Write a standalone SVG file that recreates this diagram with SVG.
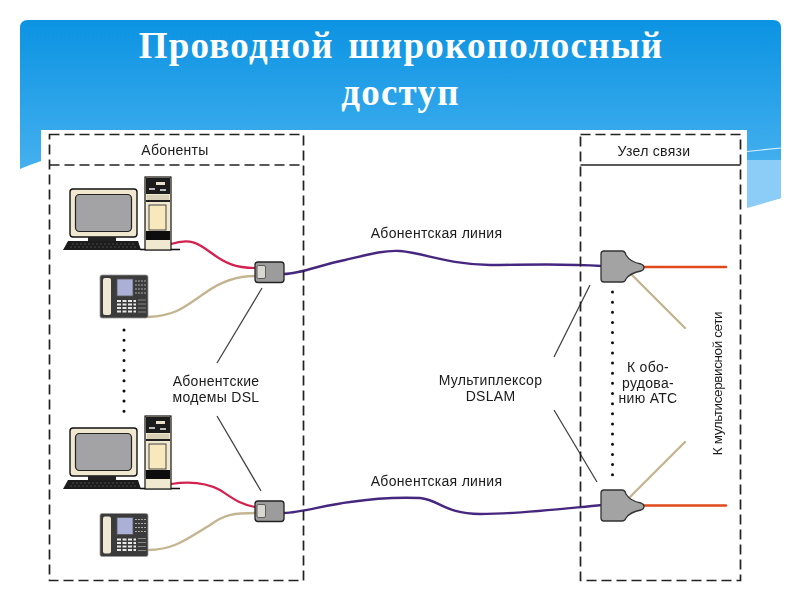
<svg xmlns="http://www.w3.org/2000/svg" xmlns:xlink="http://www.w3.org/1999/xlink" width="800" height="600" viewBox="0 0 800 600">
<style>
.t{font-family:"Liberation Sans",Arial,sans-serif;font-size:14px;letter-spacing:.3px;fill:#1a1a1a;text-anchor:middle}
.r{letter-spacing:-.4px;font-size:13.500px}
.h{font-family:"Liberation Serif","Times New Roman",serif;font-size:37px;font-weight:bold;fill:#fff;text-anchor:middle;letter-spacing:1.250px;word-spacing:4px}
.c{fill:none;stroke-linecap:round}
.red{stroke:#d3204f;stroke-width:2.200}
.tan{stroke:#c4b591;stroke-width:2.400}
.pur{stroke:#46287f;stroke-width:2.400}
.org{stroke:#e0491c;stroke-width:2.400}
.lead{stroke:#444;stroke-width:1.300;fill:none}
.dash{stroke:#222;stroke-width:1.700;stroke-dasharray:10 5;fill:none}
.dots{stroke:#111;stroke-width:3;stroke-linecap:round;stroke-dasharray:0 10.150;fill:none}
.dev{fill:#a3a3a3;stroke:#333;stroke-width:1.300}
</style>
<defs>
<linearGradient id="sky" x1="0" y1="20" x2="0" y2="210" gradientUnits="userSpaceOnUse">
<stop offset="0" stop-color="#0b93e2"/><stop offset="1" stop-color="#55b8f2"/>
</linearGradient>
<filter id="soft" x="-2%" y="-2%" width="104%" height="104%"><feGaussianBlur stdDeviation="0.5"/></filter>
<g id="pc">
<rect x="70" y="189" width="67" height="48" rx="3" fill="#f1e9cf" stroke="#111" stroke-width="1.400"/>
<rect x="75.500" y="194.500" width="56" height="37" rx="4" fill="#a3a3a5" stroke="#222" stroke-width="1.200"/>
<rect x="88" y="237" width="28" height="4" fill="#222"/>
<path d="M68,241H138L141,250H63Z" fill="#1d1d1d"/>
<path d="M72,244H134M70,247H137" stroke="#666" stroke-width=".6" stroke-dasharray="2 2"/>
<path d="M140,249.500H180" stroke="#111" stroke-width="1.500"/>
<rect x="145" y="177" width="26" height="73" fill="#f1e9cf" stroke="#111" stroke-width="1.200"/>
<rect x="146" y="178" width="24" height="16" fill="#1e1e1e"/>
<rect x="156" y="182" width="9" height="3" fill="#e8e0c8"/>
<rect x="149" y="188" width="6" height="2" fill="#bbb"/>
<rect x="160" y="189" width="6" height="2" fill="#bbb"/>
<rect x="147" y="195" width="22" height="5" fill="#d8d0b5"/>
<rect x="146" y="200" width="24" height="2" fill="#222"/>
<rect x="149" y="205" width="17" height="25" fill="#f8e9bd" stroke="#444" stroke-width="1"/>
<rect x="146" y="231" width="24" height="9" fill="#111"/>
</g>
<g id="phone">
<rect x="100" y="275" width="48" height="43" rx="2" fill="#3a3a3a" stroke="#999" stroke-width=".8"/>
<rect x="103" y="278" width="8" height="37" rx="2" fill="#efe8d2"/>
<rect x="117" y="279" width="16" height="17" fill="#aab0d6" stroke="#555" stroke-width=".8"/>
<path d="M135,281H146M135,285H146M135,289H146M135,293H146" stroke="#aaa" stroke-width="1" stroke-dasharray="2 1"/>
<path d="M117,301H136M117,304.500H136M117,308H136M117,311.500H136" stroke="#e8e8e8" stroke-width="1.800" stroke-dasharray="4 1.500"/>
<path d="M138,300H146M138,304H146M138,308H146M138,312H146" stroke="#888" stroke-width="1"/>
</g>
<g id="modem">
<rect x="255" y="262" width="29" height="20.500" rx="3" fill="#9c9c9c" stroke="#222" stroke-width="1.300"/>
<rect x="257" y="265.500" width="8.500" height="13" rx="1.500" fill="#d8d8d0" stroke="#444" stroke-width=".8"/>
</g>
<path id="dslam" d="M604,251H622Q625,251 626,255Q630,262 641,264Q644,265 644,267.500Q644,270 641,271Q630,273 626,279Q625,282 622,282H604Q601,282 601,279V254Q601,251 604,251Z"/>
</defs>
<rect width="800" height="600" fill="#fff"/>
<g id="slide-header">
<path d="M28,20H773Q781,20 781,28V198Q690,224 620,200L20,169V28Q20,20 28,20Z" fill="url(#sky)"/>
<path d="M747,160Q765,160 781,160V198Q765,203 747,208Z" fill="#8ccdf8"/>
<path d="M747,151.500L781,148" stroke="#d8f0fd" stroke-width="1.200"/>
<path d="M20,169Q32,164 41,161V175H20Z" fill="#fff"/>
</g>
<rect x="41" y="130" width="706" height="470" fill="#fff"/>
<g id="title">
<text class="h" x="401" y="58">Проводной широкополосный</text>
<text class="h" x="400.500" y="105">доступ</text>
</g>
<g filter="url(#soft)">
<g id="connectors">
<path class="c red" d="M171,244C190,238 198,243 210,252C225,263 235,268 255,268"/>
<path class="c tan" d="M148,317C175,316 185,307 205,293C220,282 235,276 255,276"/>
<path class="c red" d="M171,484C190,481 205,482 220,490C235,500 240,504 255,507"/>
<path class="c tan" d="M148,550C175,550 190,537 210,525C225,514 235,513 255,513"/>
<path class="c pur" d="M284,274C300,274 320,265 345,260C370,254 385,250 400,251C425,253 445,264 490,265C520,265 560,263 602,266"/>
<path class="c pur" d="M284,513C300,513 325,505 350,502C370,499 395,497 420,498C440,500 445,514 480,514C520,514 560,509 602,505"/>
<path class="c org" d="M644,267H726"/>
<path class="c org" d="M644,505.500H726"/>
<path class="c tan" d="M632,275L685,328"/>
<path class="c tan" d="M630,497L685,442"/>
<path class="lead" d="M262,288L217,363M217,416L261,491M590,285L554,357M554,410L597,482"/>
<path class="dots" d="M124,330V412"/>
<path class="dots" d="M612.500,292V476"/>
</g>
<g id="box-subscribers">
<rect class="dash" x="49.500" y="134.500" width="254" height="446"/>
<path class="dash" d="M49.500,165H303.500"/>
<text class="t" x="175" y="155">Абоненты</text>
</g>
<g id="box-node">
<rect class="dash" x="580.500" y="134.500" width="160" height="446"/>
<path d="M580.500,165H740.500" stroke="#222" stroke-width="1.300"/>
<text class="t" x="654" y="156">Узел связи</text>
</g>
<g id="pc-1"><use xlink:href="#pc" href="#pc"/></g>
<g id="phone-1"><use xlink:href="#phone" href="#phone"/></g>
<g id="modem-1"><use xlink:href="#modem" href="#modem"/></g>
<g id="pc-2"><use xlink:href="#pc" href="#pc" y="239"/></g>
<g id="phone-2"><use xlink:href="#phone" href="#phone" y="238.500"/></g>
<g id="modem-2"><use xlink:href="#modem" href="#modem" y="239"/></g>
<g id="dslam-1"><use class="dev" xlink:href="#dslam" href="#dslam"/></g>
<g id="dslam-2"><use class="dev" xlink:href="#dslam" href="#dslam" y="239"/></g>
<g id="labels">
<text class="t" x="436.500" y="238">Абонентская линия</text>
<text class="t" x="436.500" y="486">Абонентская линия</text>
<text class="t" x="216" y="386">Абонентские</text>
<text class="t" x="216" y="402">модемы DSL</text>
<text class="t" x="490.500" y="385">Мультиплексор</text>
<text class="t" x="490.500" y="401">DSLAM</text>
<text class="t" x="648" y="372">К обо-</text>
<text class="t" x="648" y="388">рудова-</text>
<text class="t" x="648" y="403">нию АТС</text>
<text class="t r" transform="translate(722,383.500) rotate(-90)">К мультисервисной сети</text>
</g>
</g>
</svg>
